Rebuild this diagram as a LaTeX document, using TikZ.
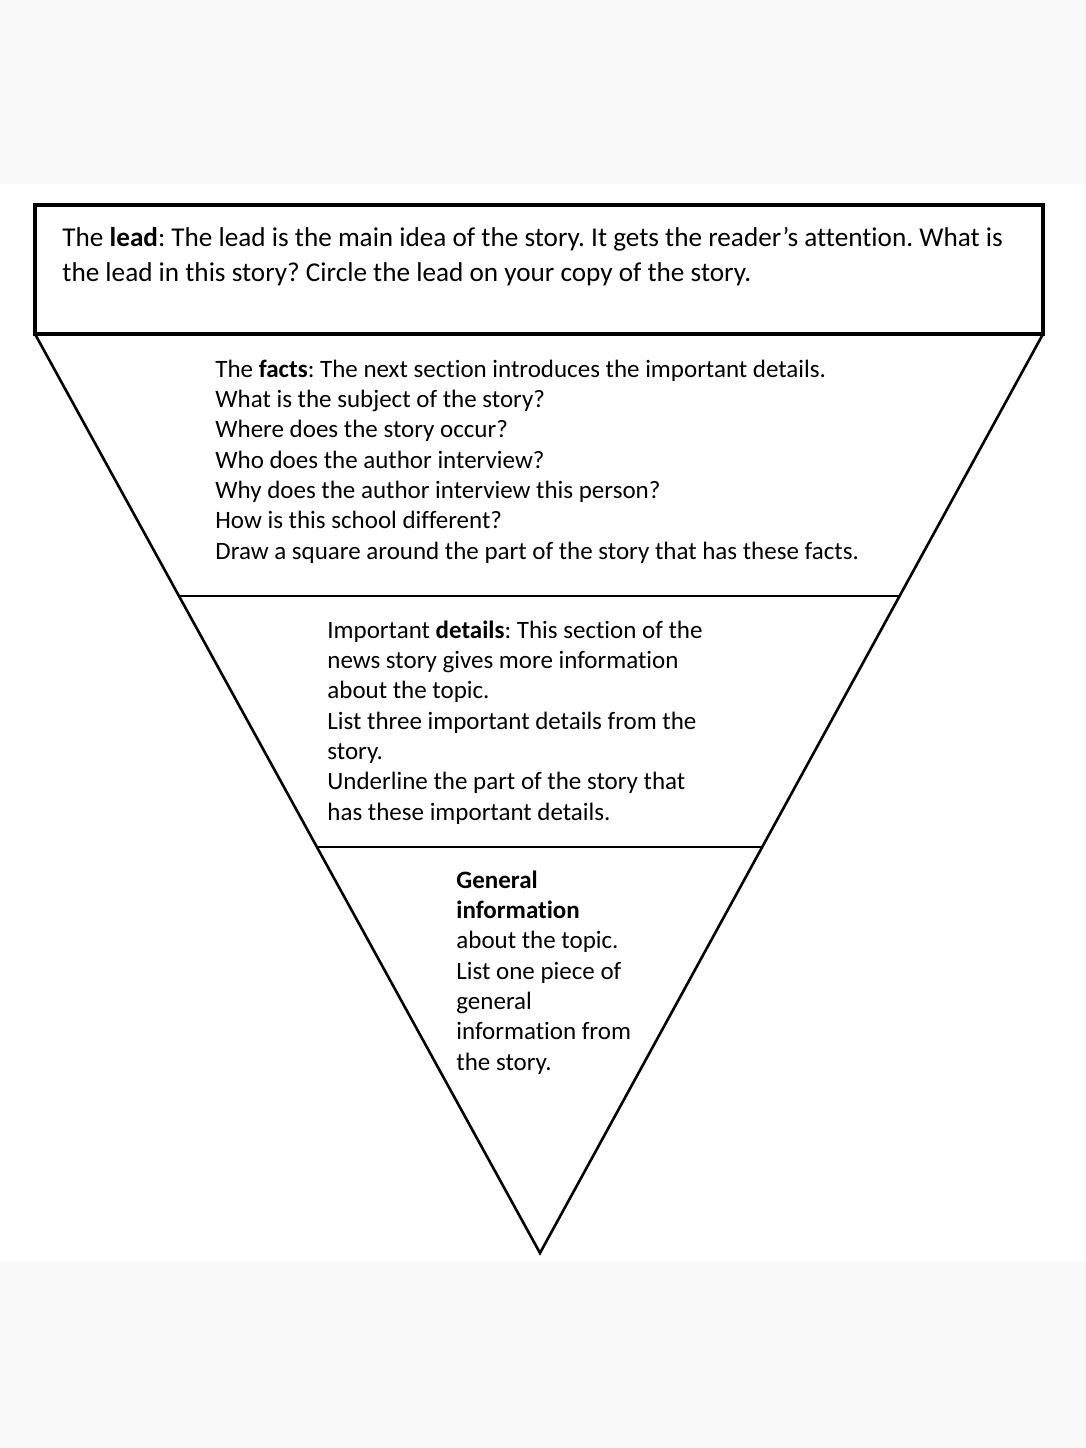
\documentclass[tikz,border=0pt]{standalone}
\usepackage{fontspec}
\setmainfont{Carlito}[Ligatures=NoCommon]
\frenchspacing
\definecolor{bandgray}{RGB}{249,249,249}

\tikzset{
  frame/.style = {draw=black, line width=1.6pt},
  layer/.style = {draw=black, line width=1.3pt},
  txt/.style   = {anchor=base west, align=left, inner sep=0pt,
                  font=\fontsize{12.5}{15.15}\selectfont},
  leadtxt/.style = {txt, font=\fontsize{13.6}{17.5}\selectfont},
}

\begin{document}
\begin{tikzpicture}[x=0.5pt, y=-0.5pt]
  \useasboundingbox (0,0) rectangle (1086,1448);
  \fill[bandgray] (0,0) rectangle (1086,184);
  \fill[bandgray] (0,1262) rectangle (1086,1448);

  % corners of the pyramid
  \coordinate (tl) at (35,205);
  \coordinate (br) at (1043,334);
  \coordinate (bl) at (35,334);
  \coordinate (tip) at (540,1253);

  \path (bl) -- (tip) coordinate[pos=0.285] (l1) coordinate[pos=0.558] (l2);
  \path (br) -- (tip) coordinate[pos=0.285] (r1) coordinate[pos=0.558] (r2);

  \draw[frame] (tl) rectangle (br);
  \draw[layer] (bl) -- (tip) -- (br);
  \draw[layer] (l1) -- (r1);
  \draw[layer] (l2) -- (r2);

  % texts (base = last line)
  \node[leadtxt] (lead) at (62,281)
    {The \textbf{lead}: The lead is the main idea of the story. It gets the reader’s attention. What is\\
     the lead in this story? Circle the lead on your copy of the story.};

  \node[txt] (facts) at (215,559)
    {The \textbf{facts}: The next section introduces the important details.\\
     What is the subject of the story?\\
     Where does the story occur?\\
     Who does the author interview?\\
     Why does the author interview this person?\\
     How is this school different?\\
     Draw a square around the part of the story that has these facts.};

  \node[txt] (details) at (327,820)
    {Important \textbf{details}: This section of the\\
     news story gives more information\\
     about the topic.\\
     List three important details from the\\
     story.\\
     Underline the part of the story that\\
     has these important details.};

  \node[txt] (general) at (456,1070)
    {\textbf{General}\\
     \textbf{information}\\
     about the topic.\\
     List one piece of\\
     general\\
     information from\\
     the story.};
\end{tikzpicture}
\end{document}
